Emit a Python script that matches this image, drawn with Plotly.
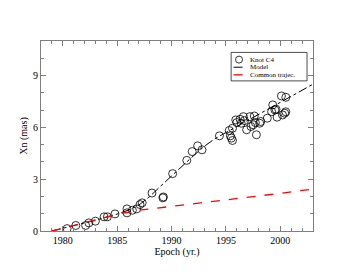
import plotly.graph_objects as go

# Knot C4 observations
obs_epoch = [1980.4, 1981.2, 1982.1, 1982.4, 1983.0, 1983.8, 1984.1, 1984.8, 1985.9, 1985.9,
             1986.4, 1986.8, 1987.1, 1987.3, 1988.2, 1989.2, 1989.25, 1990.1, 1991.4, 1991.9,
             1992.4, 1992.8, 1994.4, 1995.3, 1995.4, 1995.5, 1995.6, 1995.6, 1995.9, 1996.0,
             1996.3, 1996.4, 1996.6, 1996.7, 1996.9, 1997.2, 1997.3, 1997.5, 1997.6, 1997.7,
             1997.8, 1998.1, 1998.2, 1998.8, 1999.2, 1999.3, 1999.5, 1999.6, 1999.7, 2000.1,
             2000.2, 2000.4, 2000.5, 2000.5]
obs_xn = [0.14, 0.32, 0.32, 0.47, 0.57, 0.82, 0.82, 0.99, 1.05, 1.28,
          1.20, 1.28, 1.53, 1.63, 2.20, 1.92, 1.97, 3.32, 4.09, 4.60,
          4.93, 4.70, 5.51, 5.82, 5.51, 5.38, 5.24, 5.95, 6.43, 6.28,
          6.47, 6.24, 6.62, 6.39, 5.86, 6.62, 6.05, 6.15, 6.66, 6.28,
          5.57, 6.24, 6.34, 6.53, 6.91, 7.30, 7.01, 7.05, 6.59, 7.82,
          6.72, 6.82, 7.74, 6.90]

# Model curve
model_epoch = [1979, 1981, 1983, 1985, 1986, 1987, 1988, 1989, 1990, 1991, 1992, 1993,
               1994, 1995, 1996, 1997, 1998, 1999, 2000, 2001, 2002, 2003]
model_xn = [0.0, 0.30, 0.62, 0.98, 1.20, 1.50, 2.00, 2.60, 3.20, 3.80, 4.35, 4.90,
            5.35, 5.70, 6.05, 6.38, 6.72, 7.10, 7.45, 7.80, 8.15, 8.50]

# Common trajectory
common_epoch = [1979, 1981, 1983, 1985, 1987, 1990, 1995, 2000, 2003]
common_xn = [0.0, 0.33, 0.65, 0.97, 1.20, 1.42, 1.80, 2.18, 2.43]

x_ticks = [1980, 1985, 1990, 1995, 2000]
y_ticks = [0, 3, 6, 9]
legend_names = ["Knot C4", "Model", "Common trajec."]

FONT = "Liberation Serif, Times New Roman, serif"
AX = "#7f7f7f"

fig = go.Figure()
fig.add_trace(go.Scatter(x=obs_epoch, y=obs_xn, mode="markers", name=legend_names[0],
                         marker=dict(symbol="circle-open", size=8, color="black",
                                     line=dict(width=0.8, color="black"))))
fig.add_trace(go.Scatter(x=model_epoch, y=model_xn, mode="lines", name=legend_names[1],
                         line=dict(color="black", width=1, dash="dashdot")))
fig.add_trace(go.Scatter(x=common_epoch, y=common_xn, mode="lines", name=legend_names[2],
                         line=dict(color="red", width=1.3, dash="dash")))

axis_common = dict(showgrid=False, zeroline=False, showline=True, linecolor=AX, linewidth=1,
                   ticks="inside", tickcolor=AX, ticklen=5, tickwidth=1, mirror="ticks",
                   automargin=False,
                   tickfont=dict(family=FONT, size=10, color="black"))

fig.update_xaxes(range=[1978, 2003], tickvals=x_ticks,
                 minor=dict(dtick=1, ticks="inside", ticklen=3, tickcolor=AX),
                 title=dict(text="Epoch (yr.)", font=dict(family=FONT, size=10, color="black"),
                            standoff=2),
                 **axis_common)
fig.update_yaxes(range=[0, 11], tickvals=y_ticks,
                 minor=dict(dtick=1, ticks="inside", ticklen=3, tickcolor=AX),
                 title=dict(text="Xn (mas)", font=dict(family=FONT, size=10, color="black"),
                            standoff=3),
                 **axis_common)

# Legend box drawn by hand (compact like the original)
shapes = [dict(type="rect", xref="paper", yref="paper", x0=0.699, x1=0.978, y0=0.790, y1=0.940,
               line=dict(color="black", width=0.7), fillcolor="white", layer="above")]
row_y = [0.902, 0.862, 0.822]
shapes.append(dict(type="circle", xref="paper", yref="paper",
                   x0=0.728 - 0.0129, x1=0.728 + 0.0129, y0=row_y[0] - 0.0184, y1=row_y[0] + 0.0184,
                   line=dict(color="black", width=0.8), layer="above"))
shapes.append(dict(type="line", xref="paper", yref="paper", x0=0.708, x1=0.748,
                   y0=row_y[1], y1=row_y[1], line=dict(color="black", width=1, dash="dashdot"),
                   layer="above"))
shapes.append(dict(type="line", xref="paper", yref="paper", x0=0.708, x1=0.748,
                   y0=row_y[2], y1=row_y[2], line=dict(color="red", width=1.3, dash="dash"),
                   layer="above"))
annotations = [dict(text=name, xref="paper", yref="paper", x=0.766, y=yy, xanchor="left",
                    yanchor="middle", showarrow=False, borderpad=0,
                    font=dict(family=FONT, size=7, color="black"))
               for name, yy in zip(legend_names, row_y)]

# page body adds an 8px margin; compensate so the plot area lands where the original's is
fig.update_layout(
    width=345, height=265,
    margin=dict(l=33, r=40, t=33, b=42),
    plot_bgcolor="white", paper_bgcolor="white",
    font=dict(family=FONT, size=10, color="black"),
    showlegend=False,
    shapes=shapes,
    annotations=annotations,
)

fig.write_html("out.html")
